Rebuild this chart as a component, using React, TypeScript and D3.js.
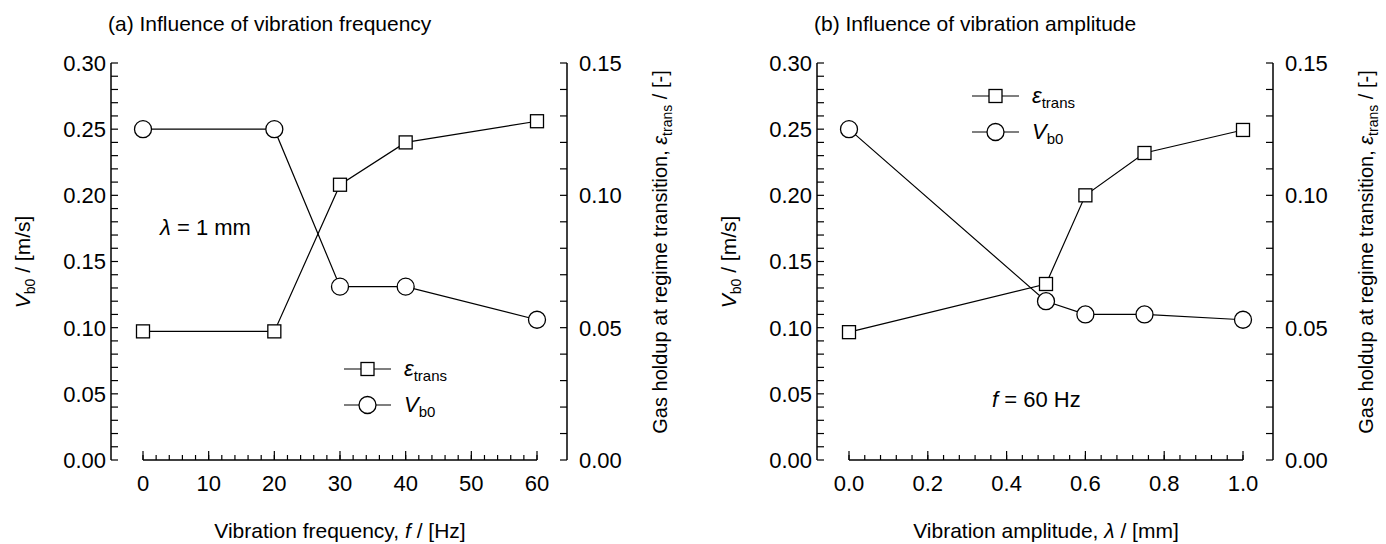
import React from 'react';
import * as d3 from 'd3';

// panel (a): vibration frequency
const freqHz = [0, 20, 30, 40, 60];
const freqVb0 = [0.25, 0.25, 0.131, 0.131, 0.106];
const freqEps = [0.0486, 0.0486, 0.104, 0.12, 0.128];
const freqTicks = [0, 10, 20, 30, 40, 50, 60];

// panel (b): vibration amplitude
const ampMm = [0, 0.5, 0.6, 0.75, 1.0];
const ampVb0 = [0.25, 0.12, 0.11, 0.11, 0.106];
const ampEps = [0.0483, 0.0665, 0.1, 0.116, 0.1247];
const ampTicks = [0, 0.2, 0.4, 0.6, 0.8, 1.0];

const leftTicks = [0, 0.05, 0.1, 0.15, 0.2, 0.25, 0.3];
const rightTicks = [0, 0.05, 0.1, 0.15];

const FONT = "'Liberation Sans', Arial, Helvetica, sans-serif";

type PanelProps = {
  dx: number;
  title: string;
  xs: number[];
  vb0: number[];
  eps: number[];
  xDomain: [number, number];
  xTicks: number[];
  xMinorStep: number;
  xFmt: (v: number) => string;
  xLabel: React.ReactNode;
  note: React.ReactNode;
  notePos: [number, number];
  legendPos: [number, number];
};

const Panel = (p: PanelProps) => {
  const axL = 111, axR = 567, top = 63, bottom = 460;
  const x = d3.scaleLinear().domain(p.xDomain).range([143, 537]);
  const yL = d3.scaleLinear().domain([0, 0.3]).range([bottom, top]);
  const yR = d3.scaleLinear().domain([0, 0.15]).range([bottom, top]);

  const minorL = d3.range(0, 0.3001, 0.01);
  const minorR = d3.range(0, 0.1501, 0.01);
  const nMinorX = Math.round((p.xDomain[1] - p.xDomain[0]) / p.xMinorStep);
  const minorX = d3.range(0, nMinorX + 1).map(i => p.xDomain[0] + i * p.xMinorStep);

  const line = d3.line<[number, number]>().x(d => d[0]).y(d => d[1]);
  const vbPts = p.xs.map((v, i) => [x(v), yL(p.vb0[i])] as [number, number]);
  const epPts = p.xs.map((v, i) => [x(v), yR(p.eps[i])] as [number, number]);
  const sq = 13, r = 8.5;

  return (
    <g transform={`translate(${p.dx},0)`}>
      <text x={108} y={31} fontSize={21}>{p.title}</text>

      {/* left axis */}
      <line x1={axL} x2={axL} y1={top} y2={bottom} stroke="#000" strokeWidth={1.5} />
      {minorL.map((t, i) => (
        <line key={i} x1={axL} x2={axL + 7} y1={yL(t)} y2={yL(t)} stroke="#000" strokeWidth={1.2} />
      ))}
      {leftTicks.map(t => (
        <text key={t} x={axL - 5} y={yL(t)} dy="0.36em" textAnchor="end" fontSize={22}>{t.toFixed(2)}</text>
      ))}

      {/* right axis */}
      <line x1={axR} x2={axR} y1={top} y2={bottom} stroke="#000" strokeWidth={1.5} />
      {minorR.map((t, i) => (
        <line key={i} x1={axR} x2={axR - 7} y1={yR(t)} y2={yR(t)} stroke="#000" strokeWidth={1.2} />
      ))}
      {rightTicks.map(t => (
        <text key={t} x={axR + 12} y={yR(t)} dy="0.36em" textAnchor="start" fontSize={22}>{t.toFixed(2)}</text>
      ))}

      {/* bottom axis */}
      <line x1={x(p.xDomain[0])} x2={x(p.xDomain[1])} y1={bottom} y2={bottom} stroke="#000" strokeWidth={1.5} />
      {minorX.map((t, i) => (
        <line key={i} x1={x(t)} x2={x(t)} y1={bottom} y2={bottom - 5} stroke="#000" strokeWidth={1.2} />
      ))}
      {p.xTicks.map(t => (
        <line key={'M' + t} x1={x(t)} x2={x(t)} y1={bottom} y2={bottom - 9} stroke="#000" strokeWidth={1.2} />
      ))}
      {p.xTicks.map(t => (
        <text key={t} x={x(t)} y={483} dy="0.36em" textAnchor="middle" fontSize={22}>{p.xFmt(t)}</text>
      ))}
      <text x={340} y={530} dy="0.36em" textAnchor="middle" fontSize={21}>{p.xLabel}</text>

      {/* axis titles */}
      <text transform="translate(30,262) rotate(-90)" textAnchor="middle" fontSize={21}>
        <tspan fontStyle="italic">V</tspan>
        <tspan fontSize={14} dy={5}>b0</tspan>
        <tspan dy={-5}> / [m/s]</tspan>
      </text>
      <text transform="translate(667,252) rotate(-90)" textAnchor="middle" fontSize={20}>
        <tspan>Gas holdup at regime transition, </tspan>
        <tspan fontStyle="italic">ε</tspan>
        <tspan fontSize={14} dy={5}>trans</tspan>
        <tspan dy={-5}> / [-]</tspan>
      </text>

      {/* series */}
      <path d={line(vbPts) ?? ''} fill="none" stroke="#000" strokeWidth={1.2} />
      <path d={line(epPts) ?? ''} fill="none" stroke="#000" strokeWidth={1.2} />
      {vbPts.map((d, i) => (
        <circle key={i} cx={d[0]} cy={d[1]} r={r} fill="#fff" stroke="#000" strokeWidth={1.3} />
      ))}
      {epPts.map((d, i) => (
        <rect key={i} x={d[0] - sq / 2} y={d[1] - sq / 2} width={sq} height={sq} fill="#fff" stroke="#000" strokeWidth={1.3} />
      ))}

      {/* note */}
      <text x={p.notePos[0]} y={p.notePos[1]} dy="0.36em" fontSize={22}>{p.note}</text>

      {/* legend */}
      <g transform={`translate(${p.legendPos[0]},${p.legendPos[1]})`}>
        <line x1={0} x2={47} y1={0} y2={0} stroke="#000" strokeWidth={1.2} />
        <rect x={23.5 - sq / 2} y={-sq / 2} width={sq} height={sq} fill="#fff" stroke="#000" strokeWidth={1.3} />
        <text x={60} y={0} dy="0.3em" fontSize={22}>
          <tspan fontStyle="italic">ε</tspan>
          <tspan fontSize={15} dy={5}>trans</tspan>
        </text>
        <line x1={0} x2={47} y1={36} y2={36} stroke="#000" strokeWidth={1.2} />
        <circle cx={23.5} cy={36} r={r} fill="#fff" stroke="#000" strokeWidth={1.3} />
        <text x={60} y={36} dy="0.3em" fontSize={22}>
          <tspan fontStyle="italic">V</tspan>
          <tspan fontSize={15} dy={5}>b0</tspan>
        </text>
      </g>
    </g>
  );
};

export default function App() {
  return (
    <svg width={1386} height={544} style={{ position: 'absolute', left: 0, top: 0, background: '#fff' }}
      fontFamily={FONT} fill="#000">
      <Panel
        dx={0}
        title="(a) Influence of vibration frequency"
        xs={freqHz} vb0={freqVb0} eps={freqEps}
        xDomain={[0, 60]} xTicks={freqTicks} xMinorStep={2}
        xFmt={v => String(v)}
        xLabel={<><tspan>Vibration frequency, </tspan><tspan fontStyle="italic">f</tspan><tspan> / [Hz]</tspan></>}
        note={<><tspan fontStyle="italic">λ</tspan><tspan> = 1 mm</tspan></>}
        notePos={[160, 227]}
        legendPos={[344, 369]}
      />
      <Panel
        dx={706}
        title="(b) Influence of vibration amplitude"
        xs={ampMm} vb0={ampVb0} eps={ampEps}
        xDomain={[0, 1]} xTicks={ampTicks} xMinorStep={0.04}
        xFmt={v => v.toFixed(1)}
        xLabel={<><tspan>Vibration amplitude, </tspan><tspan fontStyle="italic">λ</tspan><tspan> / [mm]</tspan></>}
        note={<><tspan fontStyle="italic">f</tspan><tspan> = 60 Hz</tspan></>}
        notePos={[992 - 706, 399]}
        legendPos={[972 - 706, 96]}
      />
    </svg>
  );
}
